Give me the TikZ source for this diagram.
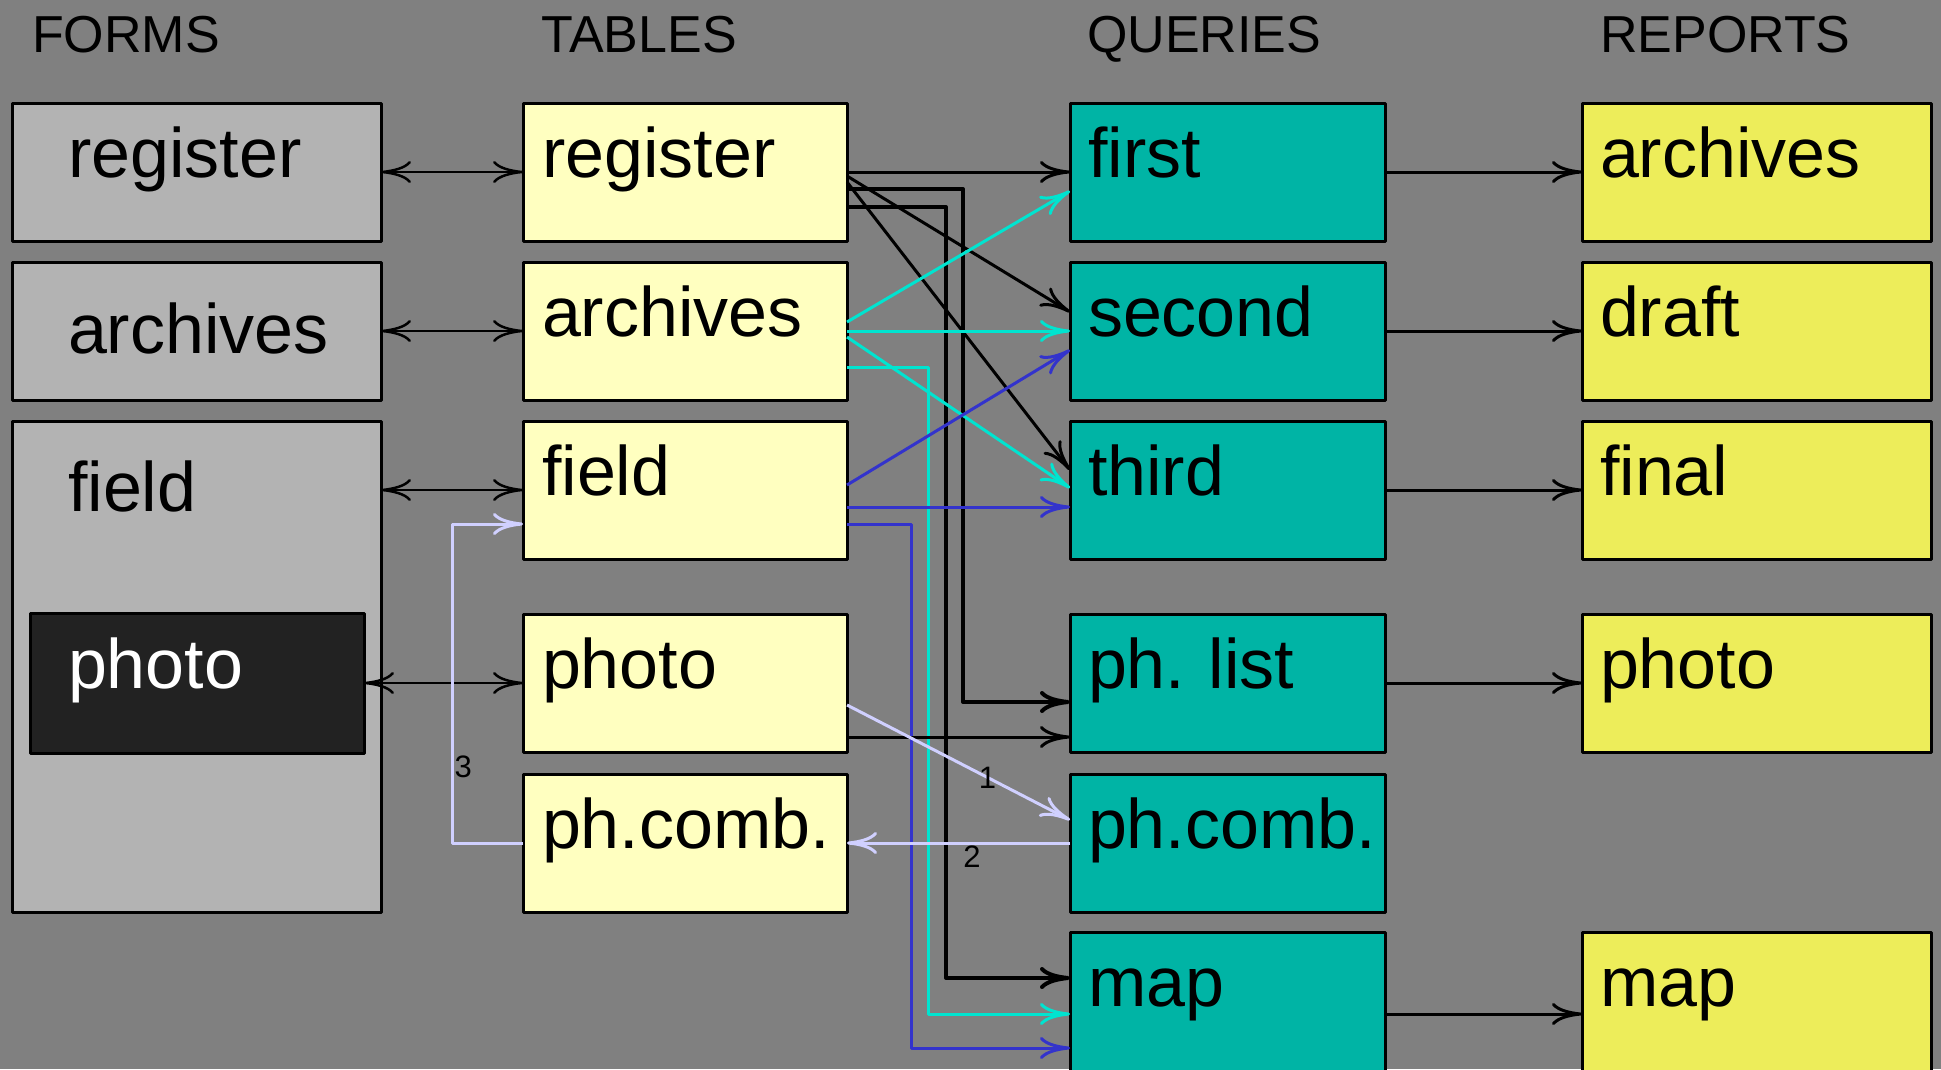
\documentclass[tikz,border=0pt]{standalone}
\usepackage{fontspec}
\setmainfont{Liberation Sans}
\usetikzlibrary{arrows.meta}
\definecolor{bg}{RGB}{128,128,128}
\definecolor{frmgray}{RGB}{179,179,179}
\definecolor{phodark}{RGB}{34,34,34}
\definecolor{tblyel}{RGB}{255,255,192}
\definecolor{qryteal}{RGB}{0,180,165}
\definecolor{rptyel}{RGB}{237,237,90}
\definecolor{lnkcyan}{RGB}{0,228,208}
\definecolor{lnkblue}{RGB}{51,51,204}
\definecolor{lnklav}{RGB}{208,208,255}
\newcommand{\boxfont}{\fontsize{70}{84}\selectfont}
\newcommand{\hdrfont}{\fontsize{52}{62}\selectfont}
\newcommand{\numfont}{\fontsize{31}{37}\selectfont}
\frenchspacing
\begin{document}
\begin{tikzpicture}[x=1pt,y=-1pt,line join=round,>={Computer Modern Rightarrow[length=30pt,width=22pt]},
	box/.style={draw,line width=3pt,anchor=north west,outer sep=0pt,inner ysep=0pt,align=left,font=\boxfont,text height=74pt,text depth=64pt},
	frm/.style={box,fill=frmgray,inner xsep=56pt,text width=257pt},
	tbl/.style={box,fill=tblyel,inner xsep=19pt,text width=286pt},
	qry/.style={box,fill=qryteal,inner xsep=18pt,text width=279pt},
	rpt/.style={box,fill=rptyel,inner xsep=18pt,text width=313pt},
	hdr/.style={anchor=base west,inner sep=0pt,font=\hdrfont},
	num/.style={inner sep=1pt,font=\numfont,text=black},
	lnk/.style={line width=3pt,->}]
	\useasboundingbox (0,0) rectangle (1941,1069);
	\fill[bg] (0,0) rectangle (1941,1069);
	% column heads
	\node[hdr] (H1) at (32,52) {FORMS};
	\node[hdr] (H2) at (541,52) {TABLES};
	\node[hdr] (H3) at (1087,52) {QUERIES};
	\node[hdr] (H4) at (1600,52) {REPORTS};
	% forms
	\node[frm] (F1) at (12,103) {register};
	\node[frm,text height=91pt,text depth=47pt] (F2) at (12,262) {archives};
	\node[frm,text height=90pt,text depth=401pt] (F3) at (12,421) {field};
	\node[box,fill=phodark,text=white,inner xsep=38pt,text width=258pt,text height=75pt,text depth=65pt] (F4) at (30,613) {photo};
	% tables
	\node[tbl] (T1) at (523,103) {register};
	\node[tbl] (T2) at (523,262) {archives};
	\node[tbl] (T3) at (523,421) {field};
	\node[tbl] (T4) at (523,614) {photo};
	\node[tbl] (T5) at (523,774) {ph.comb.};
	% queries
	\node[qry] (Q1) at (1070,103) {first};
	\node[qry] (Q2) at (1070,262) {second};
	\node[qry] (Q3) at (1070,421) {third};
	\node[qry] (Q4) at (1070,614) {ph. list};
	\node[qry] (Q5) at (1070,774) {ph.comb.};
	\node[qry,text depth=90pt] (Q6) at (1070,932) {map};
	% reports
	\node[rpt] (R1) at (1582,103) {archives};
	\node[rpt] (R2) at (1582,262) {draft};
	\node[rpt] (R3) at (1582,421) {final};
	\node[rpt] (R4) at (1582,614) {photo};
	\node[rpt,text depth=90pt] (R5) at (1582,932) {map};
	% forms <-> tables
	\draw[lnk,<->,line width=2.5pt] (F1.east)--(T1.west);
	\draw[lnk,<->,line width=2.5pt] (F2.east)--(T2.west);
	\draw[lnk,<->,line width=2.5pt] (F3.east |- T3.west)--(T3.west);
	\draw[lnk,<->,line width=2.5pt] (F4.east)--(T4.west);
	% tables -> queries
	\draw[lnk] (T1.east)--(Q1.west);
	\draw[lnk,line width=4pt] ([yshift=-17pt]T1.east)--++(116,0) |- ([yshift=-19pt]Q4.west);
	\draw[lnk,line width=4pt] ([yshift=-35pt]T1.east)--++(99,0) |- ([yshift=36pt]Q6.west);
	\draw[lnk] ([yshift=-4pt]T1.east)--([yshift=19pt]Q2.west);
	\draw[lnk] ([yshift=-10pt]T1.east)--([yshift=20pt]Q3.west);
	\draw[lnk,lnkcyan] ([yshift=9pt]T2.east)--([yshift=-19pt]Q1.west);
	\draw[lnk,lnkcyan] (T2.east)--(Q2.west);
	\draw[lnk,lnkcyan] ([yshift=-6pt]T2.east)--([yshift=2pt]Q3.west);
	\draw[lnk,lnkcyan] ([yshift=-36pt]T2.east)--++(81,0) |- (Q6.west);
	\draw[lnk,lnkblue] ([yshift=5pt]T3.east)--([yshift=-19pt]Q2.west);
	\draw[lnk,lnkblue] ([yshift=-17pt]T3.east)--([yshift=-17pt]Q3.west);
	\draw[lnk,lnkblue] ([yshift=-34pt]T3.east)--++(64,0) |- ([yshift=-34pt]Q6.west);
	\draw[lnk] ([yshift=-54pt]T4.east)--([yshift=-54pt]Q4.west);
	\draw[lnk,lnklav] ([yshift=-22pt]T4.east)--([yshift=23pt]Q5.west) node[num,pos=.63]{1};
	\draw[lnk,lnklav] (Q5.west)--(T5.east) node[num,pos=.44,below]{2};
	\draw[lnk,lnklav] (T5.west)--++(-71,0) |- ([yshift=-34pt]T3.west) node[num,pos=.12,right]{3};
	% queries -> reports
	\draw[lnk] (Q1.east)--(R1.west);
	\draw[lnk] (Q2.east)--(R2.west);
	\draw[lnk] (Q3.east)--(R3.west);
	\draw[lnk] (Q4.east)--(R4.west);
	\draw[lnk] (Q6.east)--(R5.west);
\end{tikzpicture}
\end{document}
